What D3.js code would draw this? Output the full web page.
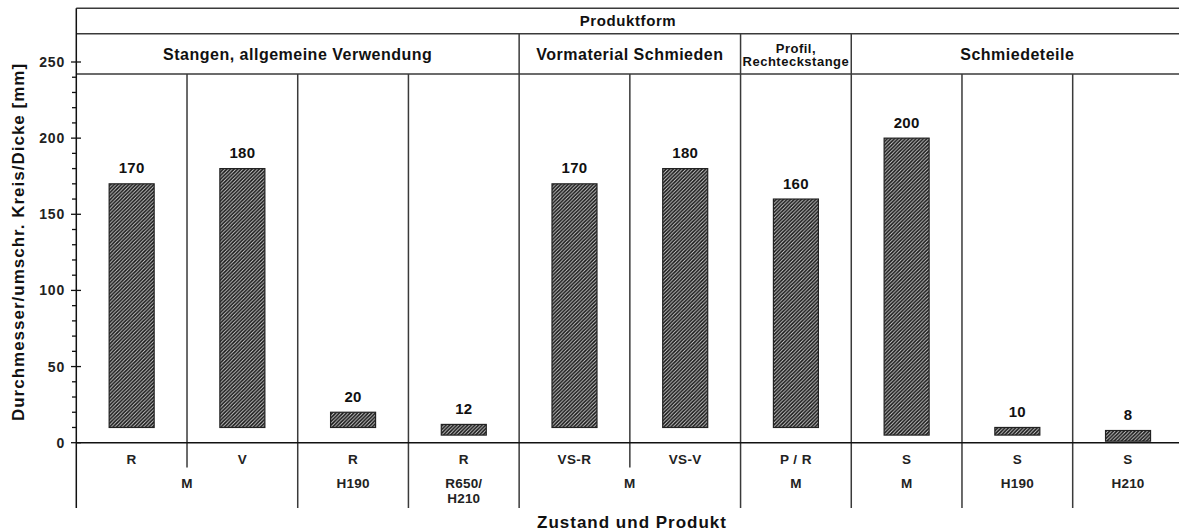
<!DOCTYPE html>
<html><head><meta charset="utf-8">
<script src="https://cdn.jsdelivr.net/npm/d3@7"></script>
<style>body{margin:0;background:#fff;}svg{display:block;font-family:"Liberation Sans",Arial,sans-serif;font-weight:bold;}</style>
</head><body>
<svg id="c" width="1179" height="532"></svg>
<script>
const codes = ["R","V","R","R","VS-R","VS-V","P / R","S","S","S"];
const zustand = ["M","M","H190","R650/\nH210","M","M","M","M","H190","H210"];
const produktform = ["Stangen, allgemeine Verwendung","Stangen, allgemeine Verwendung","Stangen, allgemeine Verwendung","Stangen, allgemeine Verwendung","Vormaterial Schmieden","Vormaterial Schmieden","Profil,\nRechteckstange","Schmiedeteile","Schmiedeteile","Schmiedeteile"];
const topValues = [170,180,20,12,170,180,160,200,10,8];
const baseValues = [10,10,10,5,10,10,10,5,5,1];
const yTicks = [0,50,100,150,200,250];

const svg = d3.select("#c");
const L = 76.3, R = 1183.4;
const yAxisTop = 8.3, hdr1 = 33.7, hdr2 = 74, bottomMid = 467.5, bottomEnd = 508;
const idx = d3.range(codes.length);
const x = d3.scaleBand().domain(idx).range([L, R]).padding(0);
const y = d3.scaleLinear().domain([0, 250]).range([442.7, 62]);
const lineCol = "#3a3a3a";

// pattern
const defs = svg.append("defs");
const pat = defs.append("pattern").attr("id","hatch").attr("patternUnits","userSpaceOnUse").attr("width",3.6).attr("height",3.6);
pat.append("rect").attr("width",3.6).attr("height",3.6).attr("fill","#d0d0d0");
pat.append("path").attr("d","M-0.9,0.9 L0.9,-0.9 M0,3.6 L3.6,0 M2.7,4.5 L4.5,2.7").attr("stroke","#151515").attr("stroke-width",1.6);

function runs(keys){
  const out=[]; keys.forEach((k,i)=>{ if(out.length && out[out.length-1].key===k){out[out.length-1].end=i;} else out.push({key:k,start:i,end:i}); });
  return out;
}
const pfRuns = runs(produktform);
const zRuns = runs(idx.map(i=>produktform[i]+"|"+zustand[i])).map(r=>({...r,label:zustand[r.start]}));

[yAxisTop,hdr1,hdr2].forEach(yy=>svg.append("line").attr("x1",L).attr("x2",R).attr("y1",yy).attr("y2",yy).attr("stroke",lineCol).attr("stroke-width",1.5));
svg.append("line").attr("x1",L).attr("x2",L).attr("y1",yAxisTop).attr("y2",bottomEnd).attr("stroke","#111").attr("stroke-width",1.5);

svg.append("text").attr("x",628).attr("y",26).attr("text-anchor","middle").attr("font-size",15).attr("letter-spacing",0.6).attr("fill","#111").text("Produktform");
pfRuns.forEach(r=>{
  const x0 = x(r.start), x1 = x(r.end)+x.bandwidth();
  if(r.start>0) svg.append("line").attr("x1",x0).attr("x2",x0).attr("y1",hdr1).attr("y2",hdr2).attr("stroke",lineCol).attr("stroke-width",1.5);
  const lines = r.key.split("\n");
  const t = svg.append("text").attr("text-anchor","middle").attr("fill","#111");
  if(lines.length===1){
    t.attr("x",(x0+x1)/2).attr("y",60).attr("font-size",16).attr("letter-spacing",0.5).text(lines[0]);
  } else {
    t.attr("font-size",13).attr("letter-spacing",0.5);
    lines.forEach((s,k)=>t.append("tspan").attr("x",(x0+x1)/2).attr("y",52.5+k*13.5).text(s));
  }
});

idx.slice(1).forEach(i=>{
  const xx = x(i);
  const zBoundary = zRuns.some(r=>r.start===i);
  svg.append("line").attr("x1",xx).attr("x2",xx).attr("y1",hdr2).attr("y2",zBoundary?bottomEnd:bottomMid).attr("stroke",lineCol).attr("stroke-width",1.5);
});

d3.range(0,251,10).forEach(v=>{
  const major = v%50===0;
  svg.append("line").attr("x1",major?71:72).attr("x2",major?81:L).attr("y1",y(v)).attr("y2",y(v)).attr("stroke","#111").attr("stroke-width",1.3);
});
yTicks.forEach(v=>svg.append("text").attr("x",65).attr("y",y(v)+5).attr("text-anchor","end").attr("font-size",14).attr("letter-spacing",0.8).attr("fill","#222").text(v));
svg.append("line").attr("x1",L).attr("x2",R).attr("y1",y(0)).attr("y2",y(0)).attr("stroke","#111").attr("stroke-width",1.5);

const bw = 45;
svg.append("g").selectAll("rect").data(idx).join("rect")
  .attr("x",i=>x(i)+x.bandwidth()/2-bw/2).attr("width",bw)
  .attr("y",i=>y(topValues[i])).attr("height",i=>y(baseValues[i])-y(topValues[i]))
  .attr("fill","url(#hatch)").attr("stroke","#222").attr("stroke-width",1.2);
svg.append("g").selectAll("text").data(idx).join("text")
  .attr("x",i=>x(i)+x.bandwidth()/2).attr("y",i=>y(topValues[i])-10.5)
  .attr("text-anchor","middle").attr("font-size",15).attr("letter-spacing",0.3).attr("fill","#111").text(i=>topValues[i]);

svg.append("g").selectAll("text").data(idx).join("text")
  .attr("x",i=>x(i)+x.bandwidth()/2).attr("y",464).attr("text-anchor","middle").attr("font-size",13.5).attr("letter-spacing",0.4).attr("fill","#222").text(i=>codes[i]);
zRuns.forEach(r=>{
  const cx = (x(r.start)+x(r.end)+x.bandwidth())/2;
  const t = svg.append("text").attr("text-anchor","middle").attr("font-size",13.5).attr("letter-spacing",0.2).attr("fill","#222");
  r.label.split("\n").forEach((s,k)=>t.append("tspan").attr("x",cx).attr("y",488+k*15).text(s));
});

svg.append("text").attr("transform","translate(24,242) rotate(-90)").attr("text-anchor","middle").attr("font-size",17).attr("letter-spacing",1).attr("fill","#111").text("Durchmesser/umschr. Kreis/Dicke [mm]");
svg.append("text").attr("x",632).attr("y",528).attr("text-anchor","middle").attr("font-size",17).attr("letter-spacing",1).attr("fill","#111").text("Zustand und Produkt");
</script>
</body></html>
